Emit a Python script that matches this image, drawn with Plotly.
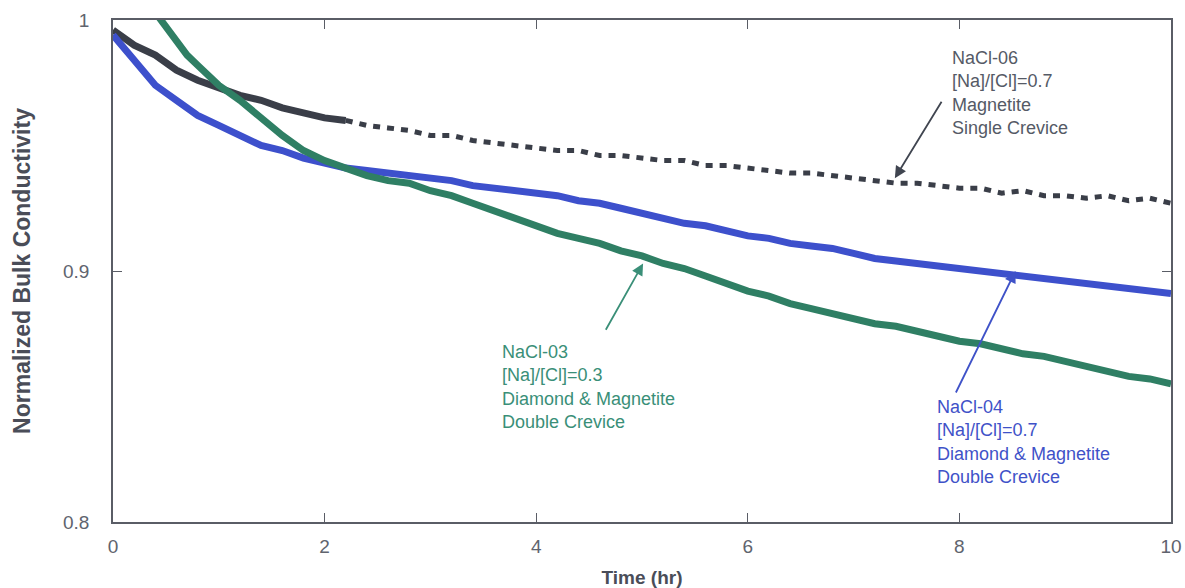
import plotly.graph_objects as go

# Time axis (hr) for the sampled records
time_hr = [round(0.2 * i, 1) for i in range(51)]

# NaCl-06 : [Na]/[Cl]=0.7, magnetite, single crevice
nacl06 = [0.996, 0.990, 0.986, 0.980, 0.976, 0.973, 0.970, 0.968, 0.965, 0.963,
          0.961, 0.960, 0.958, 0.957, 0.956, 0.954, 0.954, 0.952, 0.951, 0.950,
          0.949, 0.948, 0.948, 0.946, 0.946, 0.945, 0.944, 0.944, 0.942, 0.942,
          0.941, 0.940, 0.939, 0.939, 0.938, 0.937, 0.936, 0.935, 0.935, 0.934,
          0.933, 0.933, 0.931, 0.932, 0.930, 0.930, 0.929, 0.930, 0.928, 0.929,
          0.927]

# NaCl-04 : [Na]/[Cl]=0.7, diamond & magnetite, double crevice
nacl04 = [0.994, 0.984, 0.974, 0.968, 0.962, 0.958, 0.954, 0.950, 0.948, 0.945,
          0.943, 0.941, 0.940, 0.939, 0.938, 0.937, 0.936, 0.934, 0.933, 0.932,
          0.931, 0.930, 0.928, 0.927, 0.925, 0.923, 0.921, 0.919, 0.918, 0.916,
          0.914, 0.913, 0.911, 0.910, 0.909, 0.907, 0.905, 0.904, 0.903, 0.902,
          0.901, 0.900, 0.899, 0.898, 0.897, 0.896, 0.895, 0.894, 0.893, 0.892,
          0.891]

# NaCl-03 : [Na]/[Cl]=0.3, diamond & magnetite, double crevice
time_03 = [0.4, 0.5, 0.6, 0.7, 0.8, 0.9, 1.0, 1.2, 1.4, 1.6, 1.8, 2.0, 2.2,
           2.4, 2.6, 2.8, 3.0, 3.2, 3.4, 3.6, 3.8, 4.0, 4.2, 4.4, 4.6, 4.8, 5.0,
           5.2, 5.4, 5.6, 5.8, 6.0, 6.2, 6.4, 6.6, 6.8, 7.0, 7.2, 7.4, 7.6, 7.8,
           8.0, 8.2, 8.4, 8.6, 8.8, 9.0, 9.2, 9.4, 9.6, 9.8, 10.0]
nacl03 = [1.003, 0.997, 0.991, 0.986, 0.982, 0.978, 0.974, 0.968, 0.961,
          0.954, 0.948, 0.944, 0.941, 0.938, 0.936, 0.935, 0.932, 0.930, 0.927,
          0.924, 0.921, 0.918, 0.915, 0.913, 0.911, 0.908, 0.906, 0.903, 0.901,
          0.898, 0.895, 0.892, 0.890, 0.887, 0.885, 0.883, 0.881, 0.879, 0.878,
          0.876, 0.874, 0.872, 0.871, 0.869, 0.867, 0.866, 0.864, 0.862, 0.860,
          0.858, 0.857, 0.855]

x_ticks = [0, 2, 4, 6, 8, 10]
y_ticks = [0.8, 0.9, 1.0]
y_tick_text = ["0.8", "0.9", "1"]

GRAY = "#3a3e48"
BLUE = "#3d50cc"
GREEN = "#2f7f64"
AXIS = "#5a5d66"
TICK_TEXT = "#60646e"
TITLE = "#4a4d58"
FONT = "Liberation Sans, Arial, sans-serif"

fig = go.Figure()

# NaCl-06: dense early record, sparse logging later
split = 12
fig.add_trace(go.Scatter(x=time_hr[:split], y=nacl06[:split], mode="lines",
                         line=dict(color=GRAY, width=7), showlegend=False))
fig.add_trace(go.Scatter(x=time_hr[split - 1:], y=nacl06[split - 1:], mode="lines",
                         line=dict(color=GRAY, width=5, dash="7px,7px"), showlegend=False))
fig.add_trace(go.Scatter(x=time_hr, y=nacl04, mode="lines",
                         line=dict(color=BLUE, width=7), showlegend=False))
fig.add_trace(go.Scatter(x=time_03, y=nacl03, mode="lines",
                         line=dict(color=GREEN, width=7), showlegend=False))

label_font = dict(family=FONT, size=18)

annotations = [
    # labels
    dict(x=7.91, y=0.9896, text="NaCl-06<br>[Na]/[Cl]=0.7<br>Magnetite<br>Single Crevice",
         font=dict(label_font, color="#555a66")),
    dict(x=3.66, y=0.8725, text="NaCl-03<br>[Na]/[Cl]=0.3<br>Diamond & Magnetite<br>Double Crevice",
         font=dict(label_font, color="#3a8f78")),
    dict(x=7.77, y=0.8506, text="NaCl-04<br>[Na]/[Cl]=0.7<br>Diamond & Magnetite<br>Double Crevice",
         font=dict(label_font, color="#3f52c8")),
]
for a in annotations:
    a.update(xref="x", yref="y", xanchor="left", yanchor="top", align="left",
             showarrow=False)

arrows = [
    dict(x=7.39, y=0.937, ax=7.84, ay=0.968, arrowcolor="#404550"),
    dict(x=5.01, y=0.903, ax=4.65, ay=0.876, arrowcolor="#3a8f78"),
    dict(x=8.53, y=0.900, ax=7.96, ay=0.851, arrowcolor="#3f52c8"),
]
for a in arrows:
    a.update(xref="x", yref="y", axref="x", ayref="y", text="", showarrow=True,
             arrowhead=2, arrowsize=1.3, arrowwidth=1.8)

fig.update_layout(
    width=1185, height=588,
    margin=dict(l=113, r=14, t=20, b=66),
    paper_bgcolor="white", plot_bgcolor="white",
    font=dict(family=FONT, color=AXIS, size=17),
    annotations=annotations + arrows,
)

axis_common = dict(showline=True, linecolor=AXIS, linewidth=1.5, mirror="ticks",
                   ticks="inside", ticklen=9, tickwidth=1.3, tickcolor=AXIS,
                   showgrid=False, zeroline=False, automargin=False,
                   tickfont=dict(family=FONT, size=19, color=TICK_TEXT))

fig.update_xaxes(range=[0, 10], tickvals=x_ticks, ticklabelstandoff=6,
                 title=dict(text="<b>Time (hr)</b>", font=dict(family=FONT, size=19, color=TITLE),
                            standoff=19),
                 **axis_common)
fig.update_yaxes(range=[0.8, 1.0], tickvals=y_ticks, ticktext=y_tick_text,
                 ticklabelstandoff=18,
                 title=dict(text="<b>Normalized Bulk Conductivity</b>",
                            font=dict(family=FONT, size=23, color=TITLE), standoff=26),
                 **axis_common)

fig.write_html("out.html")
